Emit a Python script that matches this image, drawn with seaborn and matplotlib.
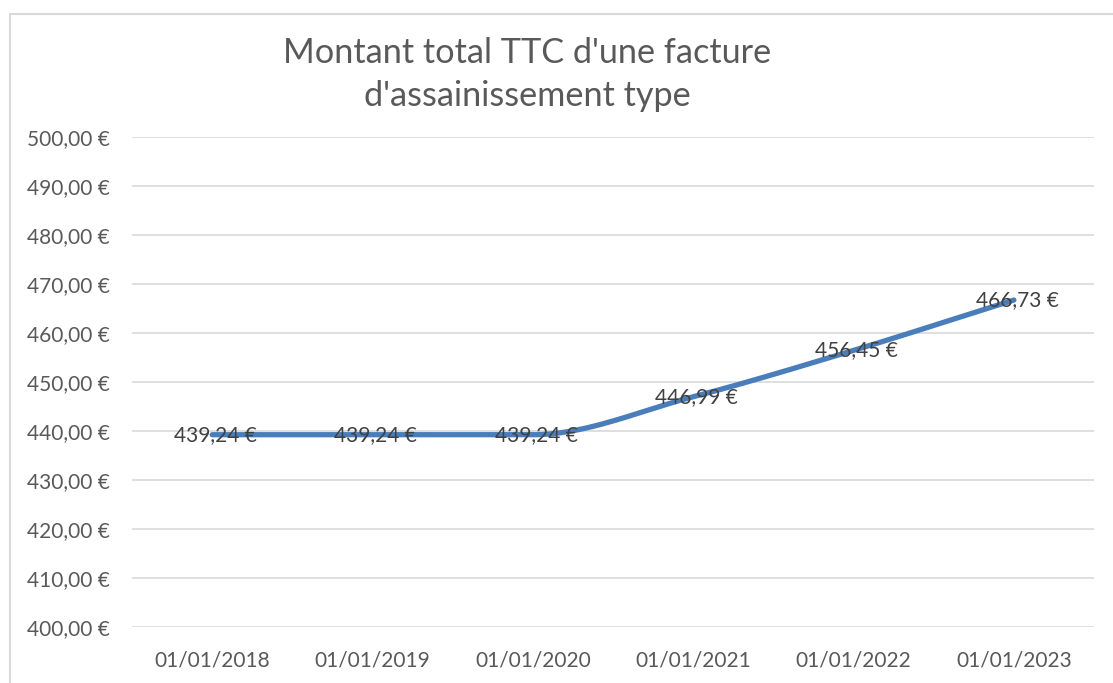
import numpy as np
import pandas as pd
import seaborn as sns
import matplotlib.pyplot as plt
from matplotlib.patches import Rectangle

dates = ["01/01/2018", "01/01/2019", "01/01/2020", "01/01/2021", "01/01/2022", "01/01/2023"]
montants = [439.24, 439.24, 439.24, 446.99, 456.45, 466.73]
y_ticks = [400, 410, 420, 430, 440, 450, 460, 470, 480, 490, 500]


def euro(v):
    return f"{v:,.2f} €".replace(",", " ").replace(".", ",")


def smooth(xs, ys, n=40):
    # smoothed line drawn as monotone cubic (no overshoot on flat parts)
    xs = np.asarray(xs, float)
    ys = np.asarray(ys, float)
    h = np.diff(xs)
    d = np.diff(ys) / h
    m = np.zeros_like(ys)
    m[0], m[-1] = d[0], d[-1]
    for i in range(1, len(ys) - 1):
        if d[i - 1] * d[i] > 0:
            m[i] = 2 / (1 / d[i - 1] + 1 / d[i])
    px, py = [], []
    for i in range(len(xs) - 1):
        t = np.linspace(0, 1, n)
        h00 = 2 * t ** 3 - 3 * t ** 2 + 1
        h10 = t ** 3 - 2 * t ** 2 + t
        h01 = -2 * t ** 3 + 3 * t ** 2
        h11 = t ** 3 - t ** 2
        px.extend(xs[i] + t * h[i])
        py.extend(h00 * ys[i] + h10 * h[i] * m[i] + h01 * ys[i + 1] + h11 * h[i] * m[i + 1])
    return np.array(px), np.array(py)


sns.set_theme(style="white")
plt.rcParams["font.family"] = ["Lato", "DejaVu Sans"]

df = pd.DataFrame({"date": dates, "montant": montants})
pos = np.arange(len(df))
sx, sy = smooth(pos, df["montant"])

fig = plt.figure(figsize=(11.13, 6.83), dpi=100)
ax = fig.add_axes([0.1186, 0.082, 0.8644, 0.7174])

ax.grid(axis="y", color="#d9d9d9", linewidth=1.2)
ax.set_axisbelow(True)
sns.lineplot(x=sx, y=sy, ax=ax, color="#4a7ebb", linewidth=3.8, sort=False)

for x, v in zip(pos, df["montant"]):
    ax.text(x + 0.02, v, euro(v), ha="center", va="center", fontsize=15, color="#404040")

ax.set_xlim(-0.5, len(df) - 0.5)
ax.set_ylim(y_ticks[0], y_ticks[-1])
ax.set_xticks(pos)
ax.set_xticklabels(df["date"])
ax.set_yticks(y_ticks)
ax.set_yticklabels([euro(v) for v in y_ticks])
ax.tick_params(axis="both", length=0, labelsize=15, labelcolor="#595959")
ax.tick_params(axis="y", pad=16)
ax.tick_params(axis="x", pad=17)
for s in ax.spines.values():
    s.set_visible(False)
ax.set_xlabel("")
ax.set_ylabel("")

fig.text(0.474, 0.891, "Montant total TTC d'une facture\nd'assainissement type",
         ha="center", va="center", fontsize=24.7, color="#595959", linespacing=1.4)

fig.patches.append(Rectangle((10 / 1113, -0.1), 1.2, 1.1 - 14 / 683, transform=fig.transFigure,
                             fill=False, edgecolor="#d9d9d9", linewidth=1.5))

fig.savefig("out.png", dpi=100)
